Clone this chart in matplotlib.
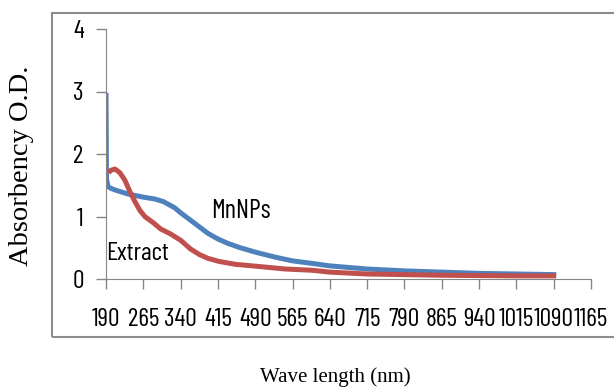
import matplotlib
matplotlib.use("Agg")
import matplotlib.pyplot as plt
from matplotlib.patches import Rectangle

# MnNPs absorbance
mn_wl = [190, 191, 194, 200, 210, 234, 265, 288, 305, 328, 340, 370, 395, 415, 435, 460,
         490, 530, 565, 604, 640, 715, 790, 865, 940, 1015, 1095]
mn_abs = [2.98, 1.6, 1.48, 1.45, 1.42, 1.36, 1.31, 1.28, 1.24, 1.14, 1.06, 0.88, 0.73,
          0.64, 0.57, 0.50, 0.43, 0.35, 0.29, 0.25, 0.21, 0.16, 0.13, 0.11, 0.09, 0.08, 0.07]

# plant extract absorbance
ex_wl = [195, 200, 208, 218, 228, 238, 248, 258, 268, 285, 300, 320, 340, 360, 378,
         395, 418, 450, 498, 550, 604, 640, 715, 790, 865, 940, 1015, 1095]
ex_abs = [1.70, 1.74, 1.76, 1.70, 1.58, 1.40, 1.24, 1.10, 1.00, 0.90, 0.80, 0.72, 0.62,
          0.48, 0.39, 0.33, 0.28, 0.235, 0.20, 0.16, 0.14, 0.11, 0.08, 0.07, 0.06, 0.055,
          0.05, 0.05]

xticks = list(range(190, 1166, 75))
yticks = [0, 1, 2, 3, 4]

sans = ['Barlow Condensed', 'DejaVu Sans']
serif = ['Liberation Serif', 'DejaVu Serif']

fig = plt.figure(figsize=(6.14, 3.90), dpi=100)
ax = fig.add_axes([106/614, 1 - 279/390, 485/614, 250/390])

grey = '#868686'
ax.plot(mn_wl, mn_abs, color='#4F81BD', lw=3.6, solid_capstyle='butt', solid_joinstyle='round')
ax.plot(ex_wl, ex_abs, color='#C0504D', lw=3.6, solid_capstyle='butt', solid_joinstyle='round')

ax.set_xlim(190, 1165)
ax.set_ylim(0, 4)
ax.set_xticks(xticks)
ax.set_yticks(yticks)
ax.tick_params(direction='out', length=7, color=grey, width=1)
ax.tick_params(axis='x', pad=14)
ax.tick_params(axis='y', pad=9)
for lab in ax.get_xticklabels() + ax.get_yticklabels():
    lab.set_family(sans)
    lab.set_fontsize(18.5)
ax.spines['top'].set_visible(False)
ax.spines['right'].set_visible(False)
ax.spines['left'].set_color(grey)
ax.spines['bottom'].set_color(grey)

ax.text(462, 1.09, 'MnNPs', family=sans, fontsize=19, ha='center', va='center')
ax.text(254, 0.40, 'Extract', family=sans, fontsize=18.5, ha='center', va='center')

# chart frame
fig.patches.append(Rectangle((52/614, 1 - 337/390), 1.0, (337 - 13)/390, transform=fig.transFigure,
                             fill=False, edgecolor='#8c8c8c', lw=1.5, clip_on=False))

fig.text(22/614, 1 - 166/390, 'Absorbency O.D.', family=serif, fontsize=20.5, rotation=90,
         ha='center', va='center')
fig.text(335/614, 1 - 377/390, 'Wave length (nm)', family=serif, fontsize=15,
         ha='center', va='center')

fig.savefig('out.png', dpi=100)
